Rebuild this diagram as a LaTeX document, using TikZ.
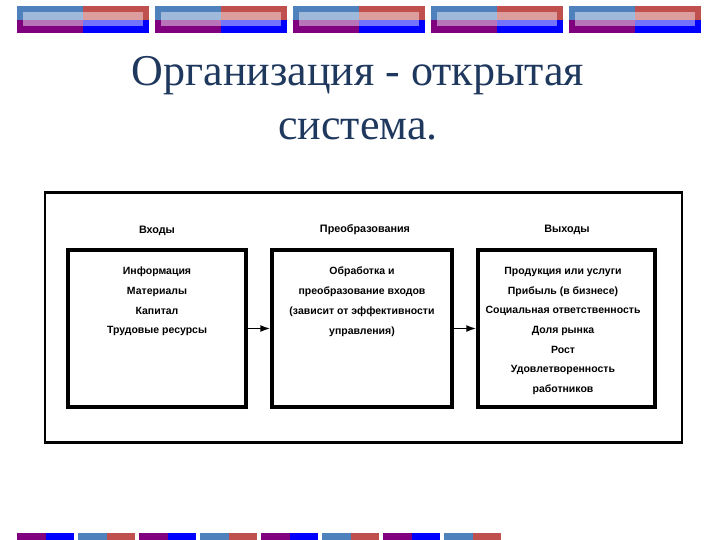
\documentclass[tikz,border=0pt]{standalone}
\usepackage{fontspec}
\setmainfont{Liberation Serif}
\newfontfamily\boxfont{Liberation Sans}
\usetikzlibrary{arrows.meta}
\definecolor{sbl}{RGB}{79,129,189}
\definecolor{brd}{RGB}{192,80,77}
\definecolor{prp}{RGB}{128,0,128}
\definecolor{blu}{RGB}{0,0,255}
\definecolor{ttl}{RGB}{31,56,93}
\begin{document}
\begin{tikzpicture}[x=1pt,y=-1pt,
  box/.style={draw, line width=3.4pt, minimum height=157pt, inner sep=0pt},
  btxt/.style={font=\boxfont\bfseries\fontsize{10.5}{19.7}\selectfont, align=center, anchor=north, inner sep=0pt},
  head/.style={font=\boxfont\bfseries\fontsize{10.8}{12}\selectfont, inner sep=0pt},
  arr/.style={-{Latex[length=10pt,width=7pt]}, line width=1.6pt}]
\useasboundingbox (0,0) rectangle (720,540);
% top banners
\foreach \i in {0,...,4}{
  \pgfmathsetmacro\xa{17+138*\i}
  \fill[sbl] (\xa,6) rectangle ++(66,14);
  \fill[brd] (\xa+66,6) rectangle ++(66,14);
  \fill[prp] (\xa,20) rectangle ++(66,13);
  \fill[blu] (\xa+66,20) rectangle ++(66,13);
  \fill[white,opacity=0.45] (\xa+6,12) rectangle ++(120,14);
}
% bottom banners
\foreach \j in {0,2,4,6}{
  \pgfmathsetmacro\xb{17+61*\j}
  \fill[prp] (\xb,533) rectangle ++(28.5,7);
  \fill[blu] (\xb+28.5,533) rectangle ++(28.5,7);
}
\foreach \j in {1,3,5,7}{
  \pgfmathsetmacro\xb{17+61*\j}
  \fill[sbl] (\xb,533) rectangle ++(28.5,7);
  \fill[brd] (\xb+28.5,533) rectangle ++(28.5,7);
}
% title
\node[font=\fontsize{44}{54}\selectfont, text=ttl, align=center, inner sep=0pt] (title) at (358,98) {Организация - открытая\\система.};
% frame
\node[draw, line width=2.4pt, minimum width=637pt, minimum height=250pt, inner sep=0pt] (frame) at (363.5,317.5) {};
% boxes
\node[box, minimum width=178pt] (b1) at (157,328.5) {};
\node[box, minimum width=180pt] (b2) at (362,328.5) {};
\node[box, minimum width=177pt] (b3) at (566.5,328.5) {};
% headings
\node[head] (h1) at (157,231) {Входы};
\node[head] (h2) at (365,230) {Преобразования};
\node[head] (h3) at (567,230) {Выходы};
% texts
\node[btxt] (t1) at (157,267) {Информация\\Материалы\\Капитал\\Трудовые ресурсы};
\node[btxt] (t2) at (362,267) {Обработка и\\преобразование входов\\(зависит от эффективности\\управления)};
\node[btxt] (t3) at (563,267) {Продукция или услуги\\Прибыль (в бизнесе)\\Социальная ответственность\\Доля рынка\\Рост\\Удовлетворенность\\работников};
% arrows
\draw[arr] (b1) -- (b2);
\draw[arr] (b2) -- (b3);
\end{tikzpicture}
\end{document}
